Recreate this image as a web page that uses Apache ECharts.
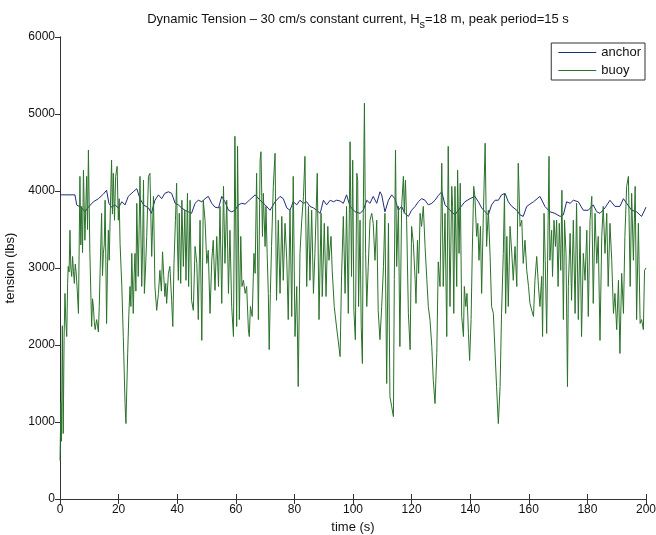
<!DOCTYPE html>
<html>
<head>
<meta charset="utf-8">
<script src="https://cdn.jsdelivr.net/npm/echarts@6/dist/echarts.min.js"></script>
<style>
  html, body { margin: 0; padding: 0; background: #fff; }
  #main { width: 656px; height: 535px; }
</style>
</head>
<body>
<div id="main"></div>
<script>
// tick values
const xTicks = [0, 20, 40, 60, 80, 100, 120, 140, 160, 180, 200];
const yTicks = [0, 1000, 2000, 3000, 4000, 5000, 6000];

// anchor tension
const anchorTime = [0, 5.1, 5.7, 7.4, 8.5, 9.7, 11.4, 13.1, 14.8, 15.9, 16.7, 17.6, 18.8, 19.9, 21.1, 22.2, 23.3, 25.0, 26.2, 27.3, 28.5, 30.2, 31.2, 32.4, 33.6, 34.7, 35.8, 37.0, 38.1, 39.3, 40.4, 41.5, 42.7, 43.8, 44.9, 46.1, 47.2, 48.4, 49.5, 50.6, 51.8, 52.9, 54.1, 55.2, 56.3, 57.5, 58.6, 59.7, 60.9, 62.0, 63.2, 64.6, 66.6, 68.3, 70.0, 71.7, 73.4, 75.1, 76.2, 77.4, 78.5, 79.6, 80.8, 81.9, 83.1, 84.2, 85.3, 86.5, 87.6, 88.8, 89.9, 91.0, 92.2, 93.3, 94.4, 95.6, 96.7, 97.8, 99.0, 100.7, 102.4, 103.5, 104.7, 105.8, 106.9, 108.1, 109.2, 109.8, 110.9, 112.1, 113.2, 114.3, 115.5, 116.6, 117.7, 118.9, 120.0, 121.2, 122.3, 123.4, 124.6, 125.7, 126.9, 128.0, 129.1, 130.3, 131.4, 133.1, 134.8, 136.5, 138.2, 139.9, 141.6, 142.8, 143.9, 145.1, 146.2, 147.3, 148.5, 149.6, 150.7, 151.9, 153.0, 154.2, 155.9, 157.0, 158.1, 159.3, 160.4, 161.6, 162.1, 163.8, 165.5, 167.2, 168.9, 170.7, 171.8, 172.9, 174.1, 175.2, 176.9, 178.6, 180.3, 182.0, 183.2, 184.3, 186.0, 187.7, 189.4, 191.1, 192.3, 193.4, 195.1, 196.8, 198.5, 200];
const anchorTension = [3950, 3950, 3820, 3780, 3730, 3790, 3860, 3900, 3960, 4010, 3840, 3790, 3820, 3780, 3860, 3820, 3930, 3990, 4030, 3900, 3820, 3780, 3710, 3880, 3950, 3900, 3970, 3990, 3970, 3840, 3820, 3780, 3750, 3730, 3710, 3840, 3880, 3860, 3900, 3930, 3840, 3790, 3780, 3930, 3860, 3750, 3730, 3750, 3820, 3840, 3830, 3880, 3950, 3880, 3820, 3750, 3860, 3930, 3900, 3780, 3750, 3860, 3820, 3880, 3840, 3860, 3800, 3780, 3750, 3710, 3880, 3820, 3880, 3860, 3880, 3870, 3840, 3950, 3800, 3730, 3710, 3750, 3880, 3840, 3930, 3840, 3990, 3950, 3730, 3880, 3950, 3900, 3750, 3800, 3710, 3670, 3750, 3800, 3860, 3900, 3880, 3820, 3840, 3880, 3940, 3990, 3820, 3750, 3690, 3780, 3860, 3900, 3930, 3860, 3780, 3730, 3690, 3820, 3880, 3880, 3950, 3970, 3860, 3800, 3750, 3690, 3670, 3800, 3830, 3860, 3880, 3930, 3800, 3730, 3710, 3670, 3690, 3860, 3840, 3880, 3860, 3750, 3750, 3820, 3730, 3710, 3780, 3880, 3800, 3800, 3900, 3840, 3750, 3730, 3670, 3790];

// buoy tension
const buoyTime = [0, 0.3, 0.5, 0.8, 1.1, 1.4, 1.7, 2.0, 2.3, 2.6, 2.8, 3.1, 3.4, 3.7, 4.0, 4.3, 4.6, 4.9, 5.2, 5.5, 5.9, 6.3, 6.8, 7.1, 7.4, 7.7, 8.0, 8.5, 9.1, 9.4, 9.7, 10.2, 10.8, 11.1, 11.4, 11.7, 12.0, 12.5, 12.8, 13.1, 13.4, 13.7, 14.2, 14.5, 14.8, 15.1, 15.4, 15.9, 16.2, 16.5, 16.8, 17.1, 17.6, 17.9, 18.2, 18.6, 19.0, 19.5, 19.9, 20.2, 20.5, 21.1, 21.6, 22.2, 22.5, 23.1, 23.5, 23.9, 24.2, 24.5, 25.0, 25.3, 25.6, 25.9, 26.2, 26.7, 27.0, 27.3, 27.9, 28.2, 28.5, 28.8, 29.2, 29.6, 30.2, 30.7, 31.3, 31.9, 32.4, 33.0, 33.6, 34.1, 34.6, 35.0, 35.4, 35.8, 36.1, 36.4, 37.0, 37.5, 38.1, 38.5, 38.9, 39.4, 39.8, 40.1, 40.4, 40.7, 41.2, 41.6, 42.1, 42.6, 43.0, 43.5, 43.9, 44.4, 44.9, 45.5, 46.1, 46.7, 47.2, 47.8, 48.4, 48.9, 49.5, 50.1, 50.6, 51.2, 51.8, 52.3, 52.9, 53.5, 54.1, 54.6, 55.2, 55.8, 56.3, 56.9, 57.5, 58.0, 58.6, 59.2, 59.7, 60.3, 60.6, 61.2, 61.7, 62.1, 62.6, 63.2, 63.7, 64.3, 64.6, 65.0, 65.6, 66.2, 66.6, 67.1, 67.7, 68.3, 68.6, 69.1, 69.4, 70.0, 70.3, 70.7, 71.1, 71.4, 71.8, 72.2, 72.8, 73.4, 73.9, 74.5, 75.1, 75.7, 76.2, 76.8, 77.4, 77.9, 78.5, 79.1, 79.6, 80.2, 80.8, 81.3, 81.9, 82.5, 83.1, 83.6, 84.2, 84.8, 85.3, 85.9, 86.5, 87.0, 87.8, 88.4, 89.1, 89.5, 90.2, 90.8, 91.4, 91.8, 92.5, 92.9, 93.6, 94.3, 94.8, 95.6, 96.1, 96.7, 97.3, 97.8, 98.4, 99.0, 99.5, 99.9, 100.3, 100.8, 101.3, 101.6, 101.9, 102.4, 102.8, 103.2, 103.5, 103.9, 104.3, 104.7, 105.2, 105.8, 106.4, 106.9, 107.5, 108.1, 108.6, 109.2, 109.8, 110.4, 110.9, 111.5, 112.1, 112.6, 113.2, 113.8, 114.1, 114.5, 114.9, 115.5, 116.0, 116.6, 117.2, 117.5, 117.9, 118.3, 118.9, 119.5, 120.0, 120.6, 121.2, 121.5, 122.0, 122.4, 122.9, 123.4, 124.0, 124.6, 125.2, 125.7, 126.3, 126.9, 127.4, 128.0, 128.6, 129.1, 129.7, 130.3, 130.8, 131.4, 132.0, 132.5, 133.1, 133.7, 134.0, 134.4, 134.8, 135.4, 135.7, 136.2, 136.6, 137.1, 137.7, 138.0, 138.5, 138.9, 139.4, 139.8, 140.3, 140.7, 141.2, 141.6, 142.2, 142.6, 143.0, 143.5, 143.9, 144.5, 145.1, 145.6, 146.2, 146.8, 147.3, 147.9, 148.5, 149.0, 149.6, 150.2, 150.7, 151.3, 151.7, 152.1, 152.5, 153.0, 153.6, 154.2, 154.7, 155.3, 155.9, 156.4, 157.0, 157.6, 158.1, 158.7, 159.3, 159.9, 160.4, 161.0, 161.6, 162.1, 162.7, 163.3, 163.8, 164.4, 164.7, 165.2, 165.6, 166.1, 166.6, 166.9, 167.2, 167.8, 168.1, 168.6, 169.1, 169.5, 170.0, 170.4, 170.9, 171.3, 171.8, 172.2, 172.7, 173.2, 173.5, 174.1, 174.6, 175.2, 175.8, 176.3, 176.9, 177.5, 178.0, 178.6, 179.2, 179.8, 180.3, 180.9, 181.5, 182.0, 182.6, 183.2, 183.7, 184.3, 184.9, 185.4, 186.0, 186.6, 187.1, 187.7, 188.3, 188.9, 189.4, 190.0, 190.6, 191.1, 191.7, 192.3, 192.8, 193.4, 194.0, 194.6, 195.1, 195.7, 196.3, 196.8, 197.4, 198.0, 198.5, 199.1, 199.5, 200];
const buoyTension = [500, 1250, 750, 2250, 850, 2100, 2670, 2300, 2110, 2800, 3020, 2950, 3490, 3000, 2890, 3150, 2950, 2800, 3050, 2950, 2700, 2410, 4190, 3300, 3800, 3200, 4270, 3360, 4190, 3500, 4530, 3190, 2240, 2600, 2500, 2300, 2200, 2330, 2250, 2170, 2500, 2970, 3710, 2900, 3190, 3300, 3880, 2280, 3000, 3490, 3100, 3620, 4400, 3700, 4230, 3620, 4190, 4320, 3620, 3900, 3320, 2760, 2110, 1240, 980, 1890, 2400, 2760, 2500, 3190, 2410, 2900, 3190, 2700, 3840, 2890, 3500, 4190, 2760, 3300, 4140, 2670, 3000, 3410, 4190, 4230, 3150, 3930, 2760, 2450, 2670, 2970, 2700, 3210, 2900, 2630, 2800, 2540, 2930, 3020, 2580, 2240, 3060, 3620, 4100, 3300, 2840, 3710, 2800, 3880, 3020, 3750, 2840, 3970, 2760, 3880, 2580, 2450, 3280, 3060, 2330, 3620, 2060, 3880, 3620, 3060, 3230, 2410, 3100, 3360, 2710, 3410, 2760, 3800, 2540, 4060, 3060, 3880, 2670, 3490, 2500, 2110, 4710, 2240, 4580, 2330, 3410, 2760, 2840, 2670, 2760, 2200, 2110, 2500, 2370, 3190, 2930, 4230, 2330, 4400, 4510, 3410, 3970, 3280, 3800, 3190, 2670, 1940, 2670, 3280, 4060, 4490, 2580, 3620, 2670, 3670, 2840, 3580, 3100, 2330, 3750, 2370, 4190, 2110, 2760, 1460, 3190, 3620, 3930, 4450, 2760, 3800, 2840, 3750, 2670, 3190, 4230, 2330, 3710, 2630, 3580, 2630, 3540, 3100, 3410, 2970, 2500, 2260, 2240, 1850, 2900, 3670, 2670, 3800, 2410, 4640, 2890, 4400, 2450, 2070, 4230, 4140, 2500, 3620, 2240, 1760, 3710, 5140, 3190, 2500, 3020, 3620, 3710, 3580, 3100, 3620, 2450, 2070, 2500, 3020, 3710, 1500, 3580, 1330, 1200, 1070, 2850, 4530, 3020, 3800, 1980, 3800, 4190, 3710, 4140, 3620, 2410, 1940, 3540, 3320, 2850, 2540, 3360, 2930, 3710, 3540, 3800, 3280, 2850, 2500, 2320, 1980, 1540, 1240, 1900, 3080, 2760, 4360, 2760, 3710, 2110, 4580, 2500, 4060, 3800, 2410, 4060, 2760, 4270, 3190, 4100, 2370, 2110, 2760, 2500, 2670, 2150, 1800, 2330, 3190, 4060, 3930, 3410, 3580, 3100, 3540, 2670, 3710, 4620, 3280, 3750, 3150, 2500, 2410, 1890, 1460, 980, 1460, 2410, 3190, 3970, 2410, 3410, 2500, 3540, 3190, 2840, 3280, 2760, 4360, 3540, 3620, 3060, 3360, 2970, 2760, 2540, 2450, 2370, 2840, 3150, 2760, 2500, 2890, 2110, 3710, 3100, 2150, 3620, 4450, 3100, 3490, 2890, 3620, 3280, 3620, 2760, 3580, 2970, 4010, 2330, 3620, 3190, 1460, 2760, 3450, 2580, 3620, 2410, 3840, 2330, 3540, 2110, 3190, 2840, 3490, 2370, 3620, 3930, 2540, 3710, 3060, 3410, 2060, 3410, 3800, 3190, 3710, 2760, 3580, 3100, 2410, 2670, 2200, 2840, 1890, 2930, 2410, 3410, 4060, 4190, 2760, 3970, 3100, 4060, 2330, 3580, 2280, 2330, 2200, 2970, 3000];

const font = 'Liberation Sans, Arial, Helvetica, sans-serif';
const chart = echarts.init(document.getElementById('main'), null, { renderer: 'canvas' });

const baseAxis = {
  type: 'value',
  splitLine: { show: false },
  axisLine: { show: true, lineStyle: { color: '#333', width: 1 } },
  axisTick: { show: true, inside: true, length: 5, lineStyle: { color: '#333' } },
  axisLabel: { color: '#111', fontFamily: font, fontSize: 12, formatter: v => String(v) }
};

const option = {
  backgroundColor: '#fff',
  animation: false,
  title: {
    text: 'Dynamic Tension \u2013 30 cm/s constant current, H{s|s}=18 m, peak period=15 s',
    left: 353,
    textAlign: 'center',
    top: 3,
    textStyle: {
      fontFamily: font, fontSize: 13, fontWeight: 'normal', color: '#111', lineHeight: 22,
      rich: { s: { fontFamily: font, fontSize: 11, lineHeight: 11, verticalAlign: 'bottom', color: '#111' } }
    }
  },
  legend: {
    orient: 'vertical',
    right: 11,
    top: 43,
    icon: 'rect',
    itemWidth: 38,
    itemHeight: 1,
    itemGap: 5,
    padding: [3, 4, 3, 7],
    backgroundColor: '#fff',
    borderColor: '#333',
    borderWidth: 1,
    borderRadius: 0,
    textStyle: { fontFamily: font, fontSize: 13, color: '#111' },
    data: ['anchor', 'buoy']
  },
  grid: { left: 60, right: 10, top: 37, bottom: 36, containLabel: false, outerBoundsMode: 'none' },
  xAxis: [
    Object.assign({}, baseAxis, {
      min: xTicks[0], max: xTicks[xTicks.length - 1], interval: 20,
      name: 'time (s)', nameLocation: 'middle', nameGap: 22,
      nameTextStyle: { fontFamily: font, fontSize: 13, color: '#111' },
      axisLabel: Object.assign({}, baseAxis.axisLabel, { margin: 5 })
    }),
    Object.assign({}, baseAxis, {
      position: 'top', min: xTicks[0], max: xTicks[xTicks.length - 1], interval: 20,
      axisLabel: { show: false }
    })
  ],
  yAxis: [
    Object.assign({}, baseAxis, {
      min: yTicks[0], max: yTicks[yTicks.length - 1], interval: 1000,
      name: 'tension (lbs)', nameLocation: 'middle', nameGap: 38,
      nameTextStyle: { fontFamily: font, fontSize: 13, color: '#111' },
      axisTick: { show: true, inside: false, length: 4, lineStyle: { color: '#333' } },
      axisLabel: Object.assign({}, baseAxis.axisLabel, { margin: 5 })
    }),
    Object.assign({}, baseAxis, {
      position: 'right', min: yTicks[0], max: yTicks[yTicks.length - 1], interval: 1000,
      axisLabel: { show: false }
    })
  ],
  series: [
    {
      name: 'anchor',
      type: 'line',
      showSymbol: false,
      symbol: 'none',
      data: anchorTime.map((t, i) => [t, anchorTension[i]]),
      lineStyle: { color: '#1f2d7a', width: 1 },
      itemStyle: { color: '#1f2d7a' }
    },
    {
      name: 'buoy',
      type: 'line',
      showSymbol: false,
      symbol: 'none',
      data: buoyTime.map((t, i) => [t, buoyTension[i]]),
      lineStyle: { color: '#2a722a', width: 1 },
      itemStyle: { color: '#2a722a' }
    }
  ]
};

chart.setOption(option);
</script>
</body>
</html>
